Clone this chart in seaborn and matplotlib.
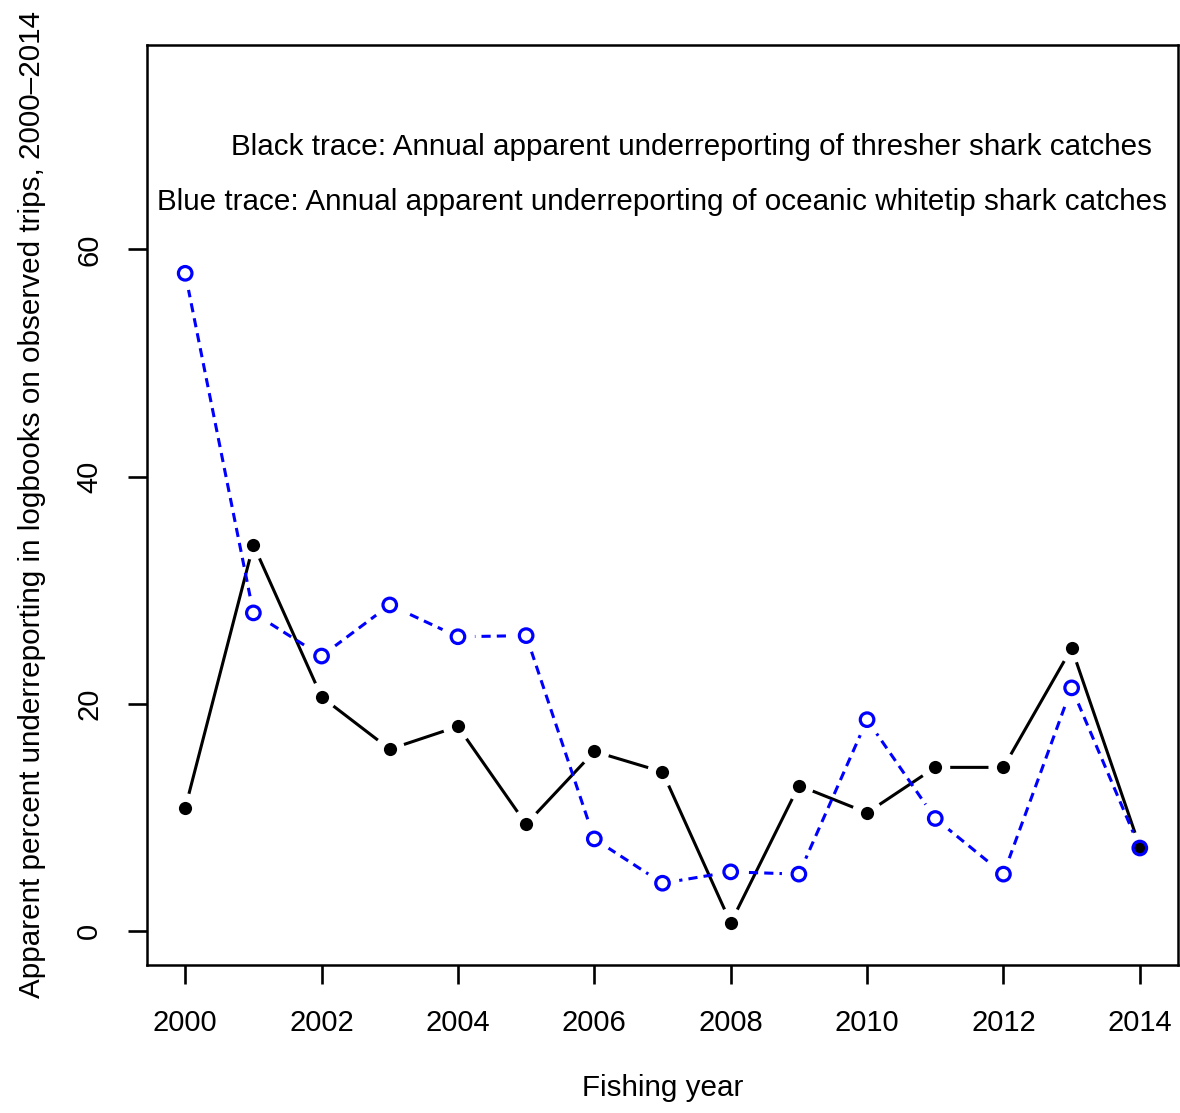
import matplotlib
matplotlib.use("Agg")
import matplotlib.pyplot as plt
from matplotlib.path import Path
from matplotlib.transforms import IdentityTransform
import seaborn as sns
import pandas as pd
import numpy as np

years = list(range(2000, 2015))
thresher = [10.8, 34.0, 20.6, 16.0, 18.0, 9.4, 15.8, 14.0, 0.7, 12.8, 10.4, 14.4, 14.4, 24.9, 7.4]
whitetip = [57.9, 28.0, 24.2, 28.7, 25.9, 26.0, 8.1, 4.2, 5.2, 5.0, 18.6, 9.9, 5.0, 21.4, 7.3]

x_ticks = [2000, 2002, 2004, 2006, 2008, 2010, 2012, 2014]
y_ticks = [0, 20, 40, 60]

black_note = "Black trace: Annual apparent underreporting of thresher shark catches"
blue_note = "Blue trace: Annual apparent underreporting of oceanic whitetip shark catches"
x_title = "Fishing year"
y_title = "Apparent percent underreporting in logbooks on observed trips, 2000\u20132014"

df = pd.DataFrame({"year": years, "thresher": thresher, "whitetip": whitetip})

sns.set_style("white")
plt.rcParams["font.family"] = ["Liberation Sans", "DejaVu Sans"]
FS = 21.3
DPI = 100

fig = plt.figure(figsize=(11.8, 11.13), dpi=DPI)
ax = fig.add_axes([147 / 1180, 148 / 1113, 1031 / 1180, 920 / 1113])
ax.set_xlim(1999.44, 2014.56)
ax.set_ylim(-3, 78)


def gap_clip(line, xs, ys, radius_px):
    """Clip a connecting line so it stops short of each point (type='b' look)."""
    W, H = fig.get_size_inches() * DPI
    outer = Path([(-10, -10), (W + 10, -10), (W + 10, H + 10), (-10, H + 10), (-10, -10)],
                 [Path.MOVETO, Path.LINETO, Path.LINETO, Path.LINETO, Path.CLOSEPOLY])
    centers = ax.transData.transform(np.column_stack([xs, ys]))
    theta = np.linspace(0, -2 * np.pi, 49)  # clockwise holes
    holes = []
    for cx, cy in centers:
        verts = np.column_stack([cx + radius_px * np.cos(theta),
                                 cy + radius_px * np.sin(theta)])
        codes = [Path.MOVETO] + [Path.LINETO] * (len(verts) - 2) + [Path.CLOSEPOLY]
        holes.append(Path(verts, codes))
    line.set_clip_path(Path.make_compound_path(outer, *holes), IdentityTransform())


# thresher: solid black line with filled dots
sns.lineplot(data=df, x="year", y="thresher", ax=ax, color="black", lw=2.2,
             zorder=2)
gap_clip(ax.lines[-1], years, thresher, 15)
# whitetip: dashed blue line with open circles
sns.lineplot(data=df, x="year", y="whitetip", ax=ax, color="#0000ff", lw=2.2,
             zorder=3)
ax.lines[-1].set_dashes((3.0, 2.0))
gap_clip(ax.lines[-1], years, whitetip, 17)

sns.scatterplot(data=df, x="year", y="thresher", ax=ax, color="black", s=90,
                linewidth=0, zorder=6)
sns.scatterplot(data=df, x="year", y="whitetip", ax=ax, facecolor="none",
                edgecolor="#0000ff", s=95, linewidth=2.3, zorder=7)

ax.set_xlim(1999.44, 2014.56)
ax.set_ylim(-3, 78)
ax.set_xticks(x_ticks)
ax.set_xticklabels([str(t) for t in x_ticks])
ax.set_yticks(y_ticks)
ax.set_yticklabels([str(t) for t in y_ticks], rotation=90, va="center")

ax.tick_params(axis="both", which="major", direction="out", length=13.5,
               width=1.9, pad=18, labelsize=21, color="black",
               bottom=True, left=True, labelcolor="black")

for sp in ax.spines.values():
    sp.set_visible(True)
    sp.set_color("black")
    sp.set_linewidth(1.8)

ax.set_xlabel(x_title, fontsize=FS, color="black")
ax.set_ylabel(y_title, fontsize=FS, color="black")
ax.xaxis.set_label_coords(0.5, -0.119)
ax.yaxis.set_label_coords(-0.098, 0.5)

ax.text(2007.43, 69.0, black_note, fontsize=FS, ha="center", va="center",
        color="black")
ax.text(2006.99, 64.2, blue_note, fontsize=FS, ha="center", va="center",
        color="black")

fig.savefig("out.png", dpi=DPI, facecolor="white")
